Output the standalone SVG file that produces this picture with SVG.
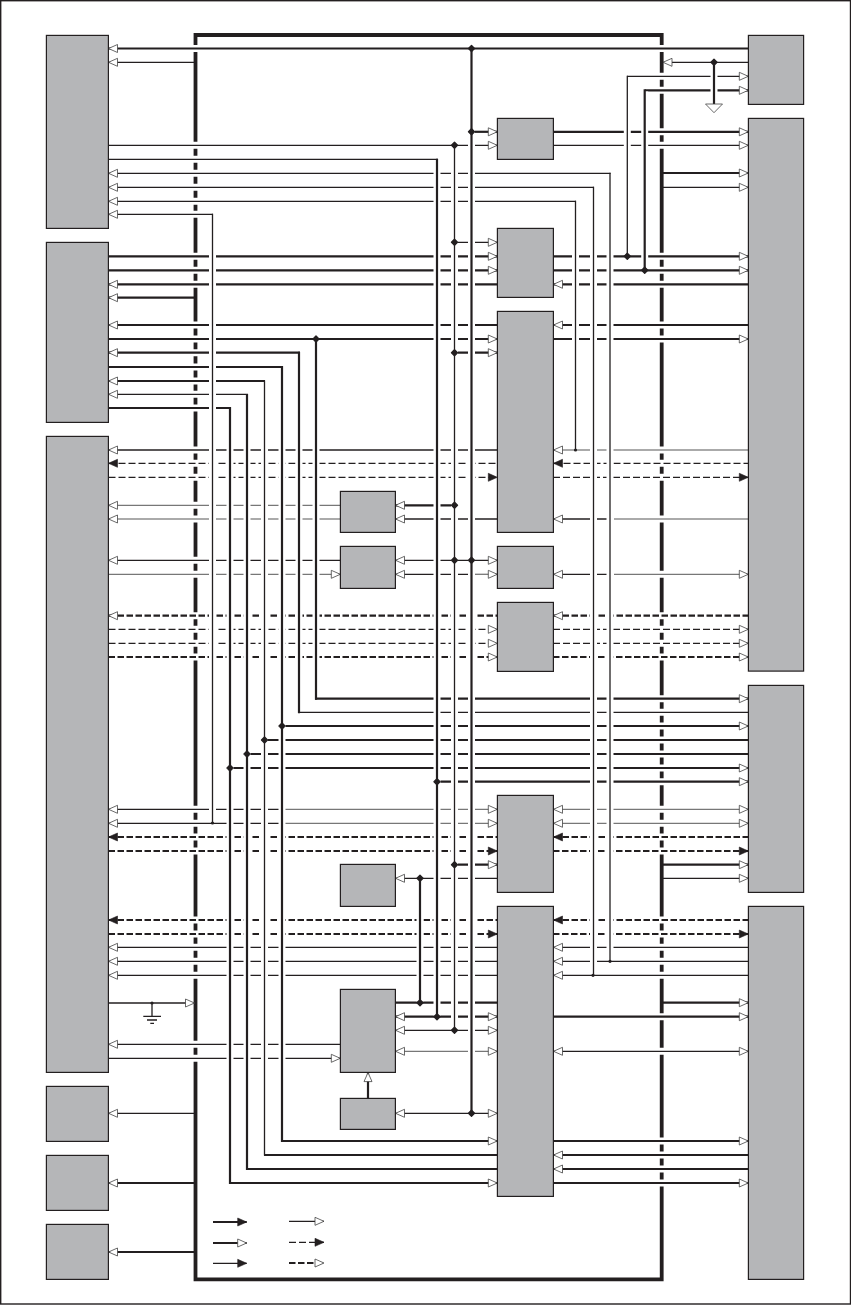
<svg xmlns="http://www.w3.org/2000/svg" width="851" height="1305" viewBox="0 0 851 1305">
<style>
.box{fill:#b5b6b8;stroke:#231f20;stroke-width:1.2}
path,line{fill:none}
.k,.n,.dn,.dk,.g,.lg{stroke:#231f20}
.k{stroke-width:2.2}
.n{stroke-width:1.3}
.dk{stroke-width:2.2;stroke-dasharray:6.5 2.5}
.dn{stroke-width:1.3;stroke-dasharray:7 3}
.g{stroke:#777;stroke-width:1.3}
.lg{stroke:#aaa;stroke-width:2}
.halo{stroke:#fff;stroke-width:7}
.mo{fill:#fff;stroke:#444;stroke-width:.8}
.mf{fill:#231f20;stroke:#231f20;stroke-width:.6}
.dot{fill:#231f20;stroke:#231f20;stroke-width:1.4;stroke-linejoin:round}
.chip{stroke:#231f20;stroke-width:3.8}
.s{fill:#231f20}
</style>
<defs>
<marker id="o" markerUnits="userSpaceOnUse" markerWidth="12" markerHeight="12" viewBox="-1 -1 12 10" refX="9" refY="4" orient="auto-start-reverse"><path class="mo" d="M0 0L9 4L0 8Z"/></marker>
<marker id="f" markerUnits="userSpaceOnUse" markerWidth="12" markerHeight="12" viewBox="-1 -1 12 10" refX="9" refY="4" orient="auto-start-reverse"><path class="mf" d="M0 0L9 4L0 8Z"/></marker>
<path id="d" class="dot" d="M-3 0L0-3L3 0L0 3Z"/>
</defs>
<rect x="0.7" y="0.7" width="849.8" height="1303.3" fill="#fff" stroke="#231f20" stroke-width="1.4"/>

<g id="chip-border">
<path class="chip" d="M195.5 1279.3V35H661.7V1279.3Z"/>
<path class="halo" d="M192 48.5H199M192 145.3H199M192 159.3H199M192 173.3H199M192 187.3H199M192 201.3H199M192 214.3H199M192 256.3H199M192 270.3H199M192 284.3H199M192 325H199M192 339H199M192 352.7H199M192 367H199M192 381H199M192 394.3H199M192 408H199M192 450H199M192 463.3H199M192 477.3H199M192 505.3H199M192 519H199M192 560.3H199M192 574.3H199M192 615.7H199M192 629.3H199M192 643.3H199M192 657H199M192 809.3H199M192 823.3H199M192 837H199M192 851H199M192 920H199M192 934H199M192 947.3H199M192 961.3H199M192 975.3H199M192 1044.3H199M192 1058.3H199"/>
<path class="halo" d="M658 48.5H665M658 76.3H665M658 90.3H665M658 131.8H665M658 145.3H665M658 256.3H665M658 270.3H665M658 284.3H665M658 325H665M658 339H665M658 450H665M658 463.3H665M658 477.3H665M658 519H665M658 574.3H665M658 615.7H665M658 629.3H665M658 643.3H665M658 657H665M658 698.7H665M658 712.3H665M658 726H665M658 740H665M658 754H665M658 768H665M658 781.7H665M658 809.3H665M658 823.3H665M658 837H665M658 851H665M658 920H665M658 934H665M658 947.3H665M658 961.3H665M658 975.3H665M658 1016.7H665M658 1051.3H665M658 1141H665M658 1155H665M658 1169H665M658 1183H665"/>
</g>

<g id="connectors">
<!-- thick horizontals -->
<line class="k" x1="108.5" y1="48.5" x2="748" y2="48.5" marker-start="url(#o)"/>
<line class="k" x1="471" y1="131.8" x2="497.3" y2="131.8" marker-end="url(#o)"/>
<line class="k" x1="553" y1="131.8" x2="748.3" y2="131.8" marker-end="url(#o)"/>
<line class="k" x1="663" y1="173" x2="748.3" y2="173" marker-end="url(#o)"/>
<line class="k" x1="645" y1="90.3" x2="748.3" y2="90.3" marker-end="url(#o)"/>
<line class="k" x1="108.5" y1="256.3" x2="497.3" y2="256.3" marker-end="url(#o)"/>
<line class="k" x1="553" y1="256.3" x2="748.3" y2="256.3" marker-end="url(#o)"/>
<line class="k" x1="108.5" y1="270.3" x2="497.3" y2="270.3" marker-end="url(#o)"/>
<line class="k" x1="553" y1="270.3" x2="748.3" y2="270.3" marker-end="url(#o)"/>
<line class="k" x1="108.5" y1="284.3" x2="497.3" y2="284.3" marker-start="url(#o)"/>
<line class="k" x1="553.5" y1="284.3" x2="748.3" y2="284.3" marker-start="url(#o)"/>
<line class="k" x1="108.5" y1="297.7" x2="195" y2="297.7" marker-start="url(#o)"/>
<line class="k" x1="108.5" y1="325" x2="497.3" y2="325" marker-start="url(#o)"/>
<line class="k" x1="553.5" y1="325" x2="748.3" y2="325" marker-start="url(#o)"/>
<line class="k" x1="108.5" y1="339" x2="497.3" y2="339" marker-end="url(#o)"/>
<line class="k" x1="553" y1="339" x2="748.3" y2="339" marker-end="url(#o)"/>
<line class="k" x1="108.5" y1="352.7" x2="300" y2="352.7" marker-start="url(#o)"/>
<line class="k" x1="454.5" y1="352.7" x2="497.3" y2="352.7" marker-end="url(#o)"/>
<line class="k" x1="108.5" y1="367" x2="283" y2="367"/>
<line class="k" x1="108.5" y1="381" x2="265" y2="381" marker-start="url(#o)"/>
<line class="k" x1="108.5" y1="408" x2="231" y2="408"/>
<line class="k" x1="395.5" y1="505.3" x2="454.5" y2="505.3" marker-start="url(#o)"/>
<line class="k" x1="315" y1="698.7" x2="748.3" y2="698.7" marker-end="url(#o)"/>
<line class="k" x1="282" y1="726" x2="748.3" y2="726" marker-end="url(#o)"/>
<line class="k" x1="264.5" y1="740" x2="748.3" y2="740"/>
<line class="k" x1="247" y1="754" x2="748.3" y2="754"/>
<line class="k" x1="230" y1="768" x2="748.3" y2="768" marker-end="url(#o)"/>
<line class="k" x1="437" y1="781.7" x2="748.3" y2="781.7" marker-end="url(#o)"/>
<line class="k" x1="454.5" y1="864.7" x2="497.3" y2="864.7" marker-end="url(#o)"/>
<line class="k" x1="663" y1="864.7" x2="748.3" y2="864.7" marker-end="url(#o)"/>
<line class="k" x1="395.5" y1="1002.7" x2="497.3" y2="1002.7"/>
<line class="k" x1="663" y1="1002.7" x2="748.3" y2="1002.7" marker-end="url(#o)"/>
<line class="k" x1="395.5" y1="1016.7" x2="497.3" y2="1016.7" marker-start="url(#o)" marker-end="url(#o)"/>
<line class="k" x1="553" y1="1016.7" x2="748.3" y2="1016.7" marker-end="url(#o)"/>
<line class="k" x1="281" y1="1141" x2="497.3" y2="1141" marker-end="url(#o)"/>
<line class="k" x1="553" y1="1141" x2="748.3" y2="1141" marker-end="url(#o)"/>
<line class="k" x1="264" y1="1155" x2="497.3" y2="1155"/>
<line class="k" x1="553.5" y1="1155" x2="748.3" y2="1155" marker-start="url(#o)"/>
<line class="k" x1="246" y1="1169" x2="497.3" y2="1169"/>
<line class="k" x1="553.5" y1="1169" x2="748.3" y2="1169" marker-start="url(#o)"/>
<line class="k" x1="229" y1="1183" x2="497.3" y2="1183" marker-end="url(#o)"/>
<line class="k" x1="553" y1="1183" x2="748.3" y2="1183" marker-end="url(#o)"/>
<line class="k" x1="108.5" y1="1183" x2="195" y2="1183" marker-start="url(#o)"/>
<line class="k" x1="108.5" y1="1252" x2="195" y2="1252" marker-start="url(#o)"/>
<!-- thin horizontals -->
<line class="n" x1="108.5" y1="62.3" x2="195" y2="62.3" marker-start="url(#o)"/>
<line class="n" x1="663" y1="62.3" x2="748" y2="62.3" marker-start="url(#o)"/>
<line class="n" x1="627" y1="76.3" x2="748.3" y2="76.3" marker-end="url(#o)"/>
<line class="n" x1="108.5" y1="145.3" x2="497.3" y2="145.3" marker-end="url(#o)"/>
<line class="n" x1="553" y1="145.3" x2="748.3" y2="145.3" marker-end="url(#o)"/>
<line class="n" x1="108.5" y1="159.3" x2="438" y2="159.3"/>
<line class="n" x1="108.5" y1="173.3" x2="610.6" y2="173.3" marker-start="url(#o)"/>
<line class="n" x1="108.5" y1="187.3" x2="594" y2="187.3" marker-start="url(#o)"/>
<line class="n" x1="108.5" y1="201.3" x2="576" y2="201.3" marker-start="url(#o)"/>
<line class="n" x1="108.5" y1="214.3" x2="213" y2="214.3" marker-start="url(#o)"/>
<line class="n" x1="663" y1="187.3" x2="748.3" y2="187.3" marker-end="url(#o)"/>
<line class="n" x1="454.5" y1="242.3" x2="497.3" y2="242.3" marker-end="url(#o)"/>
<line class="n" x1="108.5" y1="394.3" x2="248" y2="394.3" marker-start="url(#o)"/>
<line class="n" x1="108.5" y1="450" x2="497.3" y2="450" marker-start="url(#o)"/>
<line class="n" x1="395.5" y1="519" x2="497.3" y2="519" marker-start="url(#o)"/>
<line class="n" x1="553.5" y1="519" x2="607" y2="519" marker-start="url(#o)"/>
<line class="n" x1="108.5" y1="560.3" x2="340" y2="560.3" marker-start="url(#o)"/>
<line class="n" x1="395.5" y1="560.3" x2="497.3" y2="560.3" marker-start="url(#o)" marker-end="url(#o)"/>
<line class="n" x1="395.5" y1="574.3" x2="475" y2="574.3" marker-start="url(#o)"/>
<line class="n" x1="553.5" y1="574.3" x2="607" y2="574.3" marker-start="url(#o)"/>
<line class="n" x1="299" y1="712.3" x2="748.3" y2="712.3"/>
<line class="n" x1="108.5" y1="809.3" x2="282" y2="809.3" marker-start="url(#o)"/>
<line class="n" x1="108.5" y1="823.3" x2="282" y2="823.3" marker-start="url(#o)"/>
<line class="n" x1="395.5" y1="878.3" x2="497.3" y2="878.3" marker-start="url(#o)"/>
<line class="n" x1="663" y1="878.3" x2="748.3" y2="878.3" marker-end="url(#o)"/>
<line class="n" x1="108.5" y1="947.3" x2="497.3" y2="947.3" marker-start="url(#o)"/>
<line class="n" x1="553.5" y1="947.3" x2="748.3" y2="947.3" marker-start="url(#o)"/>
<line class="n" x1="108.5" y1="961.3" x2="497.3" y2="961.3" marker-start="url(#o)"/>
<line class="n" x1="553.5" y1="961.3" x2="748.3" y2="961.3" marker-start="url(#o)"/>
<line class="n" x1="108.5" y1="975.3" x2="497.3" y2="975.3" marker-start="url(#o)"/>
<line class="n" x1="553.5" y1="975.3" x2="748.3" y2="975.3" marker-start="url(#o)"/>
<line class="n" x1="108.5" y1="1003" x2="194.5" y2="1003" marker-end="url(#o)"/>
<line class="n" x1="395.5" y1="1030.3" x2="497.3" y2="1030.3" marker-start="url(#o)" marker-end="url(#o)"/>
<line class="n" x1="108.5" y1="1044.3" x2="340" y2="1044.3" marker-start="url(#o)"/>
<line class="n" x1="108.5" y1="1058.3" x2="340.3" y2="1058.3" marker-end="url(#o)"/>
<line class="n" x1="553.5" y1="1051.3" x2="748.3" y2="1051.3" marker-start="url(#o)" marker-end="url(#o)"/>
<line class="n" x1="395.5" y1="1113.3" x2="497.3" y2="1113.3" marker-start="url(#o)" marker-end="url(#o)"/>
<line class="n" x1="108.5" y1="1113.3" x2="195" y2="1113.3" marker-start="url(#o)"/>
<!-- gray horizontals -->
<line class="lg" x1="553.5" y1="450" x2="748.3" y2="450" marker-start="url(#o)"/>
<line class="g" x1="108.5" y1="505.3" x2="340" y2="505.3" marker-start="url(#o)"/>
<line class="lg" x1="108.5" y1="519" x2="340" y2="519" marker-start="url(#o)"/>
<line class="lg" x1="614" y1="519" x2="748.3" y2="519"/>
<line class="g" x1="108.5" y1="574.3" x2="340.3" y2="574.3" marker-end="url(#o)"/>
<line class="g" x1="475" y1="574.3" x2="497.3" y2="574.3" marker-end="url(#o)"/>
<line class="g" x1="614" y1="574.3" x2="748.3" y2="574.3" marker-end="url(#o)"/>
<line class="g" x1="285" y1="809.3" x2="497.3" y2="809.3" marker-end="url(#o)"/>
<line class="g" x1="285" y1="823.3" x2="497.3" y2="823.3" marker-end="url(#o)"/>
<line class="g" x1="553.5" y1="809.3" x2="748.3" y2="809.3" marker-start="url(#o)" marker-end="url(#o)"/>
<line class="g" x1="553.5" y1="823.3" x2="748.3" y2="823.3" marker-start="url(#o)" marker-end="url(#o)"/>
<line class="g" x1="395.5" y1="1051.3" x2="497.3" y2="1051.3" marker-start="url(#o)" marker-end="url(#o)"/>
<!-- dashed thin -->
<line class="dn" x1="108.5" y1="463.3" x2="497.3" y2="463.3" marker-start="url(#f)"/>
<line class="dn" x1="553.5" y1="463.3" x2="748.3" y2="463.3" marker-start="url(#f)"/>
<line class="dn" x1="108.5" y1="477.3" x2="497.3" y2="477.3" marker-end="url(#f)"/>
<line class="dn" x1="553" y1="477.3" x2="748.3" y2="477.3" marker-end="url(#f)"/>
<line class="dn" x1="108.5" y1="629.3" x2="497.3" y2="629.3" marker-end="url(#o)"/>
<line class="dn" x1="553" y1="629.3" x2="748.3" y2="629.3" marker-end="url(#o)"/>
<line class="dn" x1="108.5" y1="643.3" x2="497.3" y2="643.3" marker-end="url(#o)"/>
<line class="dn" x1="553" y1="643.3" x2="748.3" y2="643.3" marker-end="url(#o)"/>
<!-- dashed thick -->
<line class="dk" x1="108.5" y1="615.7" x2="497.3" y2="615.7" marker-start="url(#o)"/>
<line class="dk" x1="553.5" y1="615.7" x2="748.3" y2="615.7" marker-start="url(#o)"/>
<line class="dk" x1="108.5" y1="657" x2="497.3" y2="657" marker-end="url(#o)"/>
<line class="dk" x1="553" y1="657" x2="748.3" y2="657" marker-end="url(#o)"/>
<line class="dk" x1="108.5" y1="837" x2="497.3" y2="837" marker-start="url(#f)"/>
<line class="dk" x1="553.5" y1="837" x2="748.3" y2="837" marker-start="url(#f)"/>
<line class="dk" x1="108.5" y1="851" x2="497.3" y2="851" marker-end="url(#f)"/>
<line class="dk" x1="553" y1="851" x2="748.3" y2="851" marker-end="url(#f)"/>
<line class="dk" x1="108.5" y1="920" x2="497.3" y2="920" marker-start="url(#f)"/>
<line class="dk" x1="553.5" y1="920" x2="748.3" y2="920" marker-start="url(#f)"/>
<line class="dk" x1="108.5" y1="934" x2="497.3" y2="934" marker-end="url(#f)"/>
<line class="dk" x1="553" y1="934" x2="748.3" y2="934" marker-end="url(#f)"/>

<!-- gaps where verticals cross -->
<path class="halo" d="M212.5 215.5V822M230 409.5V1181.5M247 395.5V1167.5M264.5 382V1154M282 368.5V1139.5M299 354.5V711M316 340.5V697M437 160.5V1015.5M454.5 146.5V1029M471.5 50V1112M575.5 202.5V448.5M593.5 188.5V974M610 174.5V960M627.3 77.5V255M644.7 91.5V269M714 63.5V103M420 879.5V1001.5"/>

<!-- verticals -->
<path class="n" d="M212.5 213.7V823"/>
<path class="k" d="M230 407V1184M247 394V1170M282 366V1142M299 351.7V713.2M316 339V699.7M437 158.7V1017M471.5 48.5V1113.3M644.7 89.3V270.3M714 62.3V104M420 878.3V1003"/>
<path class="n" d="M264.5 380.5V1155.6M454.5 145.3V1030.3M575.5 200.7V450M593.5 186.7V975.3M610 172.7V961.3M627.3 75.7V256.3"/>
<line class="k" x1="368" y1="1098" x2="368" y2="1072.6" marker-end="url(#o)"/>
<path class="mo" d="M705.5 104H722.5L714 112.7Z"/>
<path class="n" d="M152 1003V1016.3M143.3 1016.3H161M147 1020H157M150.3 1023.3H154"/>

<!-- junctions -->
<use href="#d" x="471.5" y="48.5"/><use href="#d" x="714" y="62.3"/><use href="#d" x="471.5" y="131.8"/><use href="#d" x="454.5" y="145.3"/>
<use href="#d" x="454.5" y="242.3"/><use href="#d" x="627.3" y="256.3"/><use href="#d" x="644.7" y="270.3"/><use href="#d" x="316" y="339"/><use href="#d" x="454.5" y="352.7"/>
<use href="#d" x="454.5" y="505.3"/><use href="#d" x="454.5" y="560.3"/><use href="#d" x="471.5" y="560.3"/>
<use href="#d" x="282" y="726"/><use href="#d" x="264.5" y="740"/><use href="#d" x="247" y="754"/><use href="#d" x="230" y="768"/><use href="#d" x="437" y="781.7"/>
<use href="#d" x="454.5" y="864.7"/><use href="#d" x="420" y="878.3"/><use href="#d" x="420" y="1002.7"/><use href="#d" x="437" y="1016.7"/><use href="#d" x="454.5" y="1030.3"/><use href="#d" x="471.5" y="1113.3"/>
<circle class="s" cx="575.5" cy="450" r="1.6"/><circle class="s" cx="212.5" cy="823" r="1.6"/><circle class="s" cx="610" cy="961.3" r="1.6"/><circle class="s" cx="593" cy="975.3" r="1.6"/><circle class="s" cx="152" cy="1003" r="1.6"/>
</g>

<g id="legend">
<line class="k" x1="213" y1="1222" x2="246.7" y2="1222" marker-end="url(#f)"/>
<line class="k" x1="213" y1="1243" x2="246.7" y2="1243" marker-end="url(#o)"/>
<line class="n" x1="213" y1="1263.3" x2="246.7" y2="1263.3" marker-end="url(#f)"/>
<line class="n" x1="289" y1="1221.3" x2="324" y2="1221.3" marker-end="url(#o)"/>
<line class="dn" x1="289" y1="1242.3" x2="324" y2="1242.3" marker-end="url(#f)"/>
<line class="dk" x1="289" y1="1263" x2="324" y2="1263" marker-end="url(#o)"/>
</g>

<g id="left-a"><rect class="box" x="46.4" y="35.4" width="62" height="193"/></g>
<g id="left-b"><rect class="box" x="46.4" y="242.4" width="62" height="180"/></g>
<g id="left-c"><rect class="box" x="46.4" y="436.4" width="62" height="636"/></g>
<g id="left-d"><rect class="box" x="46.4" y="1086.4" width="62" height="55"/></g>
<g id="left-e"><rect class="box" x="46.4" y="1155.4" width="62" height="55"/></g>
<g id="left-f"><rect class="box" x="46.4" y="1224.4" width="62" height="55"/></g>
<g id="right-a"><rect class="box" x="748.4" y="35.4" width="55.2" height="69"/></g>
<g id="right-b"><rect class="box" x="748.4" y="118.4" width="55.2" height="552.7"/></g>
<g id="right-c"><rect class="box" x="748.4" y="685.4" width="55.2" height="207"/></g>
<g id="right-d"><rect class="box" x="748.4" y="906.4" width="55.2" height="373"/></g>
<g id="center-a"><rect class="box" x="497.4" y="118.4" width="56" height="41"/></g>
<g id="center-b"><rect class="box" x="497.4" y="228.4" width="56" height="69"/></g>
<g id="center-c"><rect class="box" x="497.4" y="311.4" width="56" height="221"/></g>
<g id="center-d"><rect class="box" x="497.4" y="546.4" width="56" height="42"/></g>
<g id="center-e"><rect class="box" x="497.4" y="602.4" width="56" height="69"/></g>
<g id="center-f"><rect class="box" x="497.4" y="795.4" width="56" height="97"/></g>
<g id="center-g"><rect class="box" x="497.4" y="906.4" width="56" height="290"/></g>
<g id="inner-a"><rect class="box" x="340.4" y="491.4" width="55" height="41"/></g>
<g id="inner-b"><rect class="box" x="340.4" y="546.4" width="55" height="42"/></g>
<g id="inner-c"><rect class="box" x="340.4" y="864.4" width="55" height="42"/></g>
<g id="inner-d"><rect class="box" x="340.4" y="989.4" width="55" height="83"/></g>
<g id="inner-e"><rect class="box" x="340.4" y="1098.4" width="55" height="31"/></g>
</svg>
